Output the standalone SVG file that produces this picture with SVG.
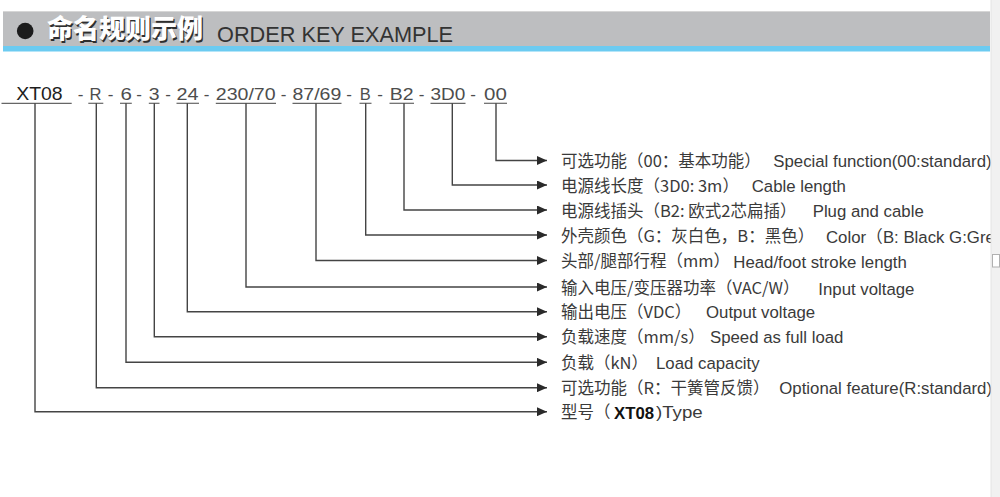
<svg xmlns="http://www.w3.org/2000/svg" width="1000" height="497" viewBox="0 0 1000 497">
  <style>
    .code { font-family: "Liberation Sans", Arial, sans-serif; font-size: 16.3px; fill: #4d4d4d; }
    .codeMain { font-family: "Liberation Sans", Arial, sans-serif; font-size: 17.7px; fill: #1e1e1e; }
    .dash { font-family: "Liberation Sans", Arial, sans-serif; font-size: 17px; fill: #4d4d4d; text-anchor: middle; }
    .ul { stroke: #666; stroke-width: 1.2; fill: none; }
    .conn { stroke: #444; stroke-width: 1.4; fill: none; marker-end: url(#arrow); }
    .cn { font-family: "Noto Sans CJK SC", "Liberation Sans", sans-serif; font-size: 16.5px; fill: #3a3a3a; }
    .en { font-family: "Liberation Sans", Arial, sans-serif; font-size: 16.8px; fill: #3a3a3a; }
    .bold { font-family: "Liberation Sans", Arial, sans-serif; font-weight: bold; fill: #111; }
  </style>
  <defs>
    <marker id="arrow" markerUnits="userSpaceOnUse" markerWidth="10" markerHeight="9" refX="10" refY="4.5" orient="auto">
      <path d="M0,0 L10,4.5 L0,9 Z" fill="#2a2a2a"/>
    </marker>
  </defs>

  <rect x="0" y="0" width="1000" height="497" fill="#ffffff"/>

  <!-- header -->
  <g id="header">
    <rect x="3" y="11" width="987" height="35" fill="#bdbec0"/>
    <line x1="3" y1="11.5" x2="990" y2="11.5" stroke="#d6d6d6" stroke-width="1"/>
    <rect x="3" y="46" width="987" height="5.5" fill="#6ccbf1"/>
    <circle cx="25.2" cy="31" r="8.3" fill="#1c1c1c"/>
    <text x="48.2" y="39.6" font-family="'Noto Sans CJK SC', sans-serif" font-size="26" font-weight="900" fill="#2e2e2e">命名规则示例</text>
    <text x="47" y="38.4" font-family="'Noto Sans CJK SC', sans-serif" font-size="26" font-weight="900" fill="#ffffff">命名规则示例</text>
    <text x="217" y="41.7" font-family="'Liberation Sans', Arial, sans-serif" font-size="21.5" fill="#333" textLength="236" lengthAdjust="spacingAndGlyphs">ORDER KEY EXAMPLE</text>
  </g>

  <!-- code line separators -->
  <g id="separators">
    <text class="dash" x="80.5" y="100">-</text>
    <text class="dash" x="110.5" y="100">-</text>
    <text class="dash" x="139" y="100">-</text>
    <text class="dash" x="168" y="100">-</text>
    <text class="dash" x="206.5" y="100">-</text>
    <text class="dash" x="283.5" y="100">-</text>
    <text class="dash" x="349" y="100">-</text>
    <text class="dash" x="380" y="100">-</text>
    <text class="dash" x="421.5" y="100">-</text>
    <text class="dash" x="473" y="100">-</text>
  </g>

  <!-- code nodes -->
  <g id="code-xt08">
    <text class="codeMain" x="16.2" y="99.6" textLength="46.5" lengthAdjust="spacingAndGlyphs">XT08</text>
    <line class="ul" x1="1.5" y1="103.3" x2="71.7" y2="103.3"/>
  </g>
  <g id="code-r">
    <text class="code" x="89.6" y="100" textLength="12" lengthAdjust="spacingAndGlyphs">R</text>
    <line class="ul" x1="88.3" y1="103.3" x2="103.3" y2="103.3"/>
  </g>
  <g id="code-6">
    <text class="code" x="120.4" y="100" textLength="11.4" lengthAdjust="spacingAndGlyphs">6</text>
    <line class="ul" x1="120" y1="103.3" x2="131.8" y2="103.3"/>
  </g>
  <g id="code-3">
    <text class="code" x="148.8" y="100" textLength="10.8" lengthAdjust="spacingAndGlyphs">3</text>
    <line class="ul" x1="148.8" y1="103.3" x2="159.5" y2="103.3"/>
  </g>
  <g id="code-24">
    <text class="code" x="176.5" y="100" textLength="22" lengthAdjust="spacingAndGlyphs">24</text>
    <line class="ul" x1="176.5" y1="103.3" x2="199" y2="103.3"/>
  </g>
  <g id="code-230-70">
    <text class="code" x="215.8" y="100" textLength="59.8" lengthAdjust="spacingAndGlyphs">230/70</text>
    <line class="ul" x1="215.8" y1="103.3" x2="276" y2="103.3"/>
  </g>
  <g id="code-87-69">
    <text class="code" x="292.5" y="100" textLength="48.8" lengthAdjust="spacingAndGlyphs">87/69</text>
    <line class="ul" x1="292.5" y1="103.3" x2="341.5" y2="103.3"/>
  </g>
  <g id="code-b">
    <text class="code" x="359.8" y="100" textLength="11" lengthAdjust="spacingAndGlyphs">B</text>
    <line class="ul" x1="359.5" y1="103.3" x2="371.5" y2="103.3"/>
  </g>
  <g id="code-b2">
    <text class="code" x="389.8" y="100" textLength="23.8" lengthAdjust="spacingAndGlyphs">B2</text>
    <line class="ul" x1="389.5" y1="103.3" x2="414" y2="103.3"/>
  </g>
  <g id="code-3d0">
    <text class="code" x="430.5" y="100" textLength="34.8" lengthAdjust="spacingAndGlyphs">3D0</text>
    <line class="ul" x1="430.5" y1="103.3" x2="465.5" y2="103.3"/>
  </g>
  <g id="code-00">
    <text class="code" x="484" y="100" textLength="22.8" lengthAdjust="spacingAndGlyphs">00</text>
    <line class="ul" x1="484" y1="103.3" x2="507" y2="103.3"/>
  </g>

  <!-- connectors -->
  <g id="connectors">
    <path class="conn" d="M496,103.3 V160.5 H547"/>
    <path class="conn" d="M452.3,103.3 V185 H547"/>
    <path class="conn" d="M404,103.3 V210 H547"/>
    <path class="conn" d="M365.7,103.3 V235 H547"/>
    <path class="conn" d="M316,103.3 V260.5 H547"/>
    <path class="conn" d="M246,103.3 V287 H547"/>
    <path class="conn" d="M187.3,103.3 V311.7 H547"/>
    <path class="conn" d="M154.3,103.3 V336.7 H547"/>
    <path class="conn" d="M126,103.3 V362.3 H547"/>
    <path class="conn" d="M96.3,103.3 V387.7 H547"/>
    <path class="conn" d="M35,103.3 V411.7 H547"/>
  </g>

  <!-- labels -->
  <g id="label-00">
    <text class="cn" x="561" y="167">可选功能（00：基本功能）</text>
    <text class="en" x="773.3" y="167">Special function(00:standard)</text>
  </g>
  <g id="label-3d0">
    <text class="cn" x="561" y="191.5">电源线长度（3D0: 3m）</text>
    <text class="en" x="751.7" y="191.5">Cable length</text>
  </g>
  <g id="label-b2">
    <text class="cn" x="561" y="216.5">电源线插头（B2: 欧式2芯扁插）</text>
    <text class="en" x="812.7" y="216.5">Plug and cable</text>
  </g>
  <g id="label-b">
    <text class="cn" x="561" y="241.5">外壳颜色（G：灰白色，B：黑色）</text>
    <text class="en" x="826" y="243">Color<tspan font-family="'Noto Sans CJK SC', sans-serif">（</tspan>B: Black G:Gre</text>
  </g>
  <g id="label-87-69">
    <text class="cn" x="561" y="267">头部/腿部行程（mm）</text>
    <text class="en" x="733.3" y="268">Head/foot stroke length</text>
  </g>
  <g id="label-230-70">
    <text class="cn" x="561" y="293.5">输入电压/变压器功率（VAC/W）</text>
    <text class="en" x="818.3" y="294.5">Input voltage</text>
  </g>
  <g id="label-24">
    <text class="cn" x="561" y="318.2">输出电压（VDC）</text>
    <text class="en" x="706" y="318.2">Output voltage</text>
  </g>
  <g id="label-3">
    <text class="cn" x="561" y="343.2">负载速度（mm/s）</text>
    <text class="en" x="710" y="343.2">Speed as full load</text>
  </g>
  <g id="label-6">
    <text class="cn" x="561" y="368.8">负载（kN）</text>
    <text class="en" x="656" y="368.8">Load capacity</text>
  </g>
  <g id="label-r">
    <text class="cn" x="561" y="394.2">可选功能（R：干簧管反馈）</text>
    <text class="en" x="779.3" y="394.2">Optional feature(R:standard)</text>
  </g>
  <g id="label-xt08">
    <text class="cn" x="561" y="418.2">型号（</text>
    <text class="bold" x="614" y="418.5" font-size="17" textLength="40" lengthAdjust="spacingAndGlyphs">XT08</text>
    <text class="en" x="656" y="418.2" textLength="46.7" lengthAdjust="spacingAndGlyphs">)Type</text>
  </g>

  <!-- scrollbar strip -->
  <g id="scrollbar">
    <rect x="991" y="0" width="9" height="497" fill="#f1f1f1"/>
    <line x1="991" y1="0" x2="991" y2="497" stroke="#e4e4e4" stroke-width="1"/>
    <rect x="992.5" y="254.5" width="7" height="12.5" fill="#ffffff" stroke="#b0b0b0" stroke-width="1"/>
  </g>
</svg>
